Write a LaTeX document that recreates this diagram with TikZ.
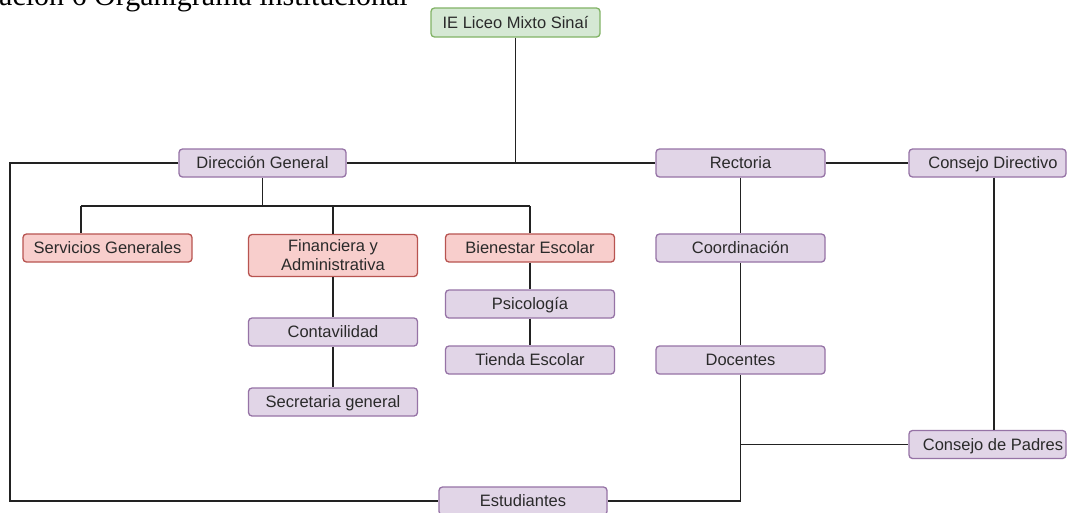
\documentclass[tikz,border=0pt]{standalone}
\usepackage{fontspec}
\setmainfont{Liberation Sans}
\newfontfamily\capfont{Liberation Serif}
\definecolor{pfill}{HTML}{E1D5E7}
\definecolor{pdraw}{HTML}{9673A6}
\definecolor{rfill}{HTML}{F8CECC}
\definecolor{rdraw}{HTML}{B85450}
\definecolor{gfill}{HTML}{D5E8D4}
\definecolor{gdraw}{HTML}{82B366}
\definecolor{txt}{HTML}{2A2A2A}
\definecolor{edge}{HTML}{222222}
\begin{document}
\begin{tikzpicture}[x=1pt,y=-1pt,
  boxbase/.style={draw, line width=1.3pt, rounded corners=3.5pt, minimum width=169pt, minimum height=28pt,
    inner sep=0pt, align=center, text=txt, font=\fontsize{16.5}{19}\selectfont},
  box/.style={boxbase, text height=12.8pt, text depth=1pt},
  pbox/.style={box, fill=pfill, draw=pdraw},
  rbox/.style={box, fill=rfill, draw=rdraw},
  rboxtwo/.style={boxbase, fill=rfill, draw=rdraw},
  gbox/.style={box, fill=gfill, draw=gdraw},
  conn/.style={draw=edge, line width=1.3pt}]
\useasboundingbox (0,0) rectangle (1068,512);
\clip (0,0) rectangle (1068,512);
\fill[white] (0,0) rectangle (1068,512);
% caption (cut off at the top)
\node[anchor=base west, inner sep=0pt, font=\capfont\fontsize{30}{32}\selectfont, text=black] (cap) at (-1,5.5) {ación 6 Organigrama institucional};
% nodes
\node[gbox, minimum height=29pt] (ie) at (515.5,22.5) {IE Liceo Mixto Sinaí};
\node[pbox, minimum width=167pt] (dg) at (262.5,163) {Dirección General};
\node[pbox] (rec) at (740.5,163) {Rectoria};
\node[pbox, minimum width=157pt] (cd) at (987.5,163) {\hspace*{11pt}Consejo Directivo};
\node[rbox] (sg) at (107.5,248) {Servicios Generales};
\node[rboxtwo, minimum height=42pt] (fin) at (333,255.5) {Financiera y\\Administrativa};
\node[rbox] (bie) at (530,248) {Bienestar Escolar};
\node[pbox] (coo) at (740.5,248) {Coordinación};
\node[pbox] (psi) at (530,304) {Psicología};
\node[pbox] (con) at (333,332) {Contavilidad};
\node[pbox] (tie) at (530,360) {Tienda Escolar};
\node[pbox] (doc) at (740.5,360) {Docentes};
\node[pbox] (sec) at (333,402) {Secretaria general};
\node[pbox, minimum width=157pt] (cdp) at (987.5,444.5) {\hspace*{11pt}Consejo de Padres};
\node[pbox, minimum width=168pt] (est) at (523,501) {Estudiantes};
% junction points
\coordinate (jtop) at (ie.south |- dg.east);
\coordinate (jdg) at (262.5,206);
\coordinate (jdoc) at (doc.south |- cdp.west);
\coordinate (jsg) at (81,206);
% connectors
\draw[conn] (ie.south) -- (jtop);
\draw[conn] (dg.east) -- (rec.west);
\draw[conn] (rec.east) -- (cd.west);
\draw[conn] (dg.west) -| (10,300) |- (est.west);
\draw[conn] (dg.south) -- (jdg);
\draw[conn] (jsg) -- (bie.north |- jdg);
\draw[conn] (jsg) -- (jsg |- sg.north);
\draw[conn] (fin.north) -- (fin.north |- jdg);
\draw[conn] (bie.north) -- (bie.north |- jdg);
\draw[conn] (fin.south) -- (con.north);
\draw[conn] (con.south) -- (sec.north);
\draw[conn] (bie.south) -- (psi.north);
\draw[conn] (psi.south) -- (tie.north);
\draw[conn] (rec.south) -- (coo.north);
\draw[conn] (coo.south) -- (doc.north);
\draw[conn] (doc.south) |- (est.east);
\draw[conn] (jdoc) -- (cdp.west);
\draw[conn] ([xshift=6.5pt]cd.south) -- ([xshift=6.5pt]cdp.north);
\end{tikzpicture}
\end{document}
